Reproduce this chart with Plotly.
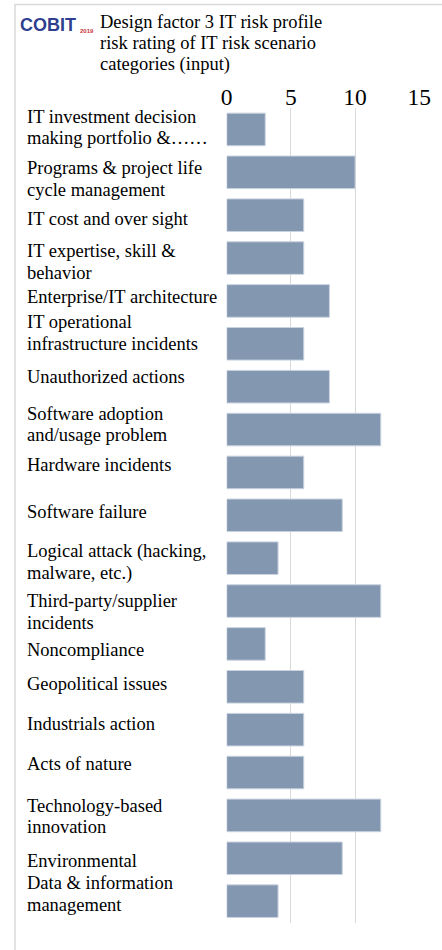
import plotly.graph_objects as go

categories = [
    "IT investment decision<br>making portfolio &……",
    "Programs & project life<br>cycle management",
    "IT cost and over sight",
    "IT expertise, skill &<br>behavior",
    "Enterprise/IT architecture",
    "IT operational<br>infrastructure incidents",
    "Unauthorized actions",
    "Software adoption<br>and/usage problem",
    "Hardware incidents",
    "Software failure",
    "Logical attack (hacking,<br>malware, etc.)",
    "Third-party/supplier<br>incidents",
    "Noncompliance",
    "Geopolitical issues",
    "Industrials action",
    "Acts of nature",
    "Technology-based<br>innovation",
    "Environmental",
    "Data & information<br>management",
]
values = [3, 10, 6, 6, 8, 6, 8, 12, 6, 9, 4, 12, 3, 6, 6, 6, 12, 9, 4]
tick_vals = [0, 5, 10, 15]
title_lines = [
    "Design factor 3 IT risk profile",
    "risk rating of IT risk scenario",
    "categories (input)",
]

# label vertical nudges (pixels, layout only)
label_shift = [2, -7, -4, -4, 4, 11, 10, 5, 7, 3, -4, -11, -6, 3, 6, 9, -1, -3, 7]

W, H = 442, 950
def px(x):
    return x / W
def py(y):
    return 1 - y / H

FONT = "Liberation Serif"
fs = 18.5
line_h = 21.7

fig = go.Figure()
fig.add_trace(go.Bar(
    x=values, y=list(range(len(categories))), orientation="h",
    marker=dict(color="#8497b0", line=dict(color="#c9d3e0", width=1)),
    width=0.76, hoverinfo="x",
))

annotations = []
for i, (lab, sh) in enumerate(zip(categories, label_shift)):
    lines = lab.split("<br>")
    n = len(lines)
    for k, ln in enumerate(lines):
        off = ((n - 1) / 2 - k) * line_h
        annotations.append(dict(
            text=ln, xref="paper", yref="y", x=px(24.5), y=i,
            xanchor="left", yanchor="middle", showarrow=False,
            yshift=sh + off, font=dict(family=FONT, size=fs, color="#000000"),
        ))

title_y = [22.5, 43.5, 64.5]
for t, yy in zip(title_lines, title_y):
    annotations.append(dict(
        text=t, xref="paper", yref="paper", x=px(97.5), y=py(yy),
        xanchor="left", yanchor="middle", showarrow=False,
        font=dict(family=FONT, size=fs, color="#000000"),
    ))

# logo text
annotations.append(dict(
    text="<b>COBIT</b>", xref="paper", yref="paper", x=px(18), y=py(25),
    xanchor="left", yanchor="middle", showarrow=False,
    font=dict(family="Liberation Sans", size=18, color="#2f3f8f"),
))
annotations.append(dict(
    text="<b>2019</b>", xref="paper", yref="paper", x=px(78), y=py(31),
    xanchor="left", yanchor="middle", showarrow=False,
    font=dict(family="Liberation Sans", size=6, color="#c8323c"),
))

fig.update_layout(
    width=W, height=H,
    margin=dict(l=0, r=0, t=0, b=0),
    paper_bgcolor="white", plot_bgcolor="white",
    showlegend=False,
    bargap=0.24,
    annotations=annotations,
    shapes=[dict(type="rect", xref="paper", yref="paper",
                 x0=px(15), x1=1.05, y0=-0.05, y1=py(4.5),
                 line=dict(color="#d9d9d9", width=1.5), layer="below")],
    xaxis=dict(
        domain=[px(226.7), px(419.3)], range=[0, 15], side="top",
        tickvals=tick_vals, ticktext=[str(v) for v in tick_vals],
        showgrid=True, gridcolor="#d9d9d9", gridwidth=1.3,
        zeroline=False, showline=False, ticks="",
        tickfont=dict(family=FONT, size=23.5, color="#000000"),
        ticklabelstandoff=-3,
        fixedrange=True, automargin=False,
    ),
    yaxis=dict(
        domain=[py(922.6), py(108)], range=[len(categories) - 0.5, -0.5],
        showticklabels=False, showgrid=False, zeroline=False, showline=False,
        ticks="", fixedrange=True, automargin=False,
    ),
)

fig.write_html(
    "out.html",
    config={"displayModeBar": False},
    post_script="document.body.style.margin='0';document.body.style.overflow='hidden';",
)
